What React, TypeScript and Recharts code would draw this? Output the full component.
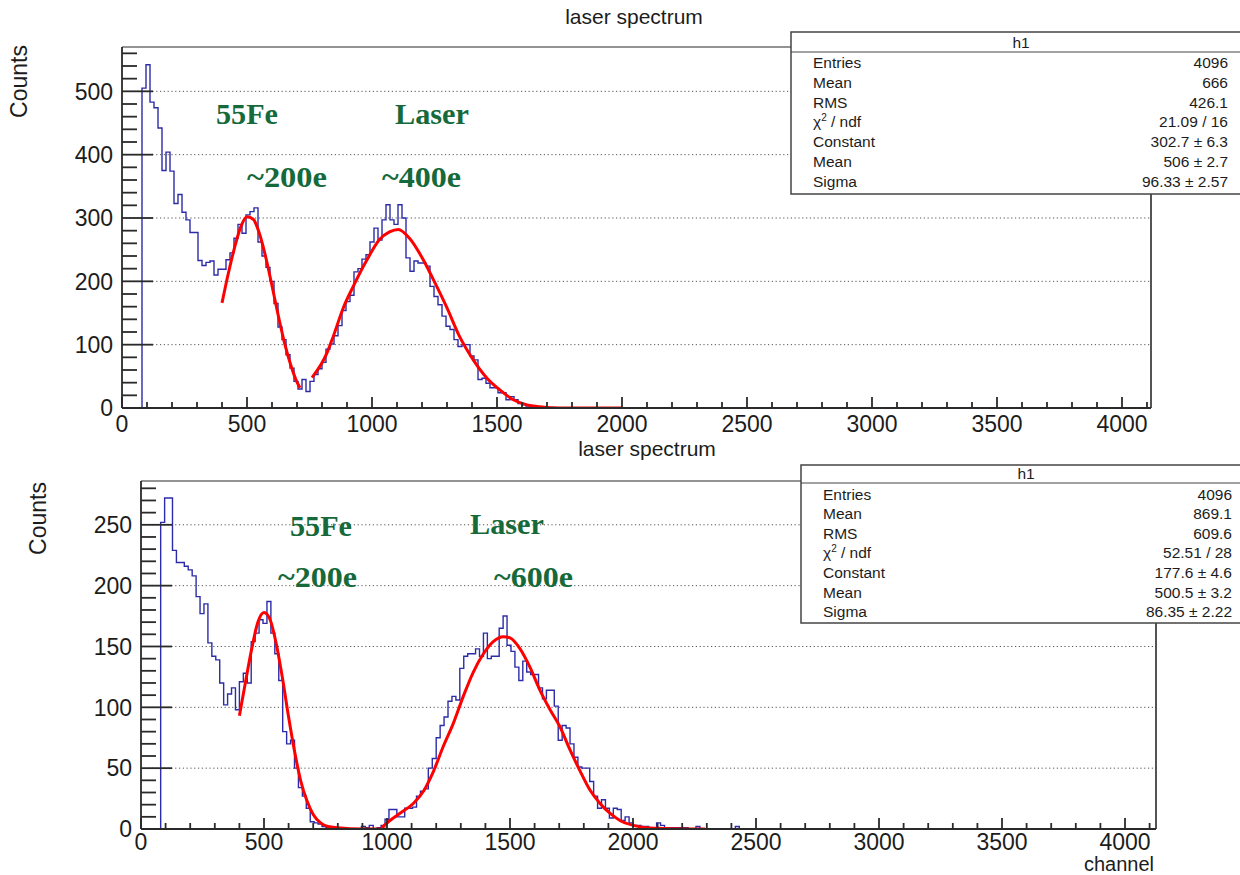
import React from "react";
import { LineChart, Line, XAxis, YAxis, ReferenceLine } from "recharts";

const SANS = "'Liberation Sans', Arial, Helvetica, sans-serif";
const SERIF = "'Liberation Serif', 'Times New Roman', serif";
const INK = "#1c1c1c";
const GREEN = "#16693a";
const HIST_BLUE = "#2c2caa";
const FIT_RED = "#ff0000";
const FRAME = "#2a2a2a";

// histogram binning (channels)
const BIN = 16;
const HIST_START = 80;

// top panel: counts per 16-channel bin, starting at channel 80
const topCounts = [
  505, 542, 483, 474, 442, 375, 404, 374, 323, 337,
  309, 297, 277, 277, 233, 225, 230, 232, 210, 219,
  219, 234, 245, 268, 290, 276, 305, 310, 316, 262,
  240, 222, 200, 165, 128, 108, 84, 63, 42, 30,
  45, 26, 42, 53, 62, 72, 93, 101, 114, 130,
  154, 168, 178, 215, 220, 235, 242, 262, 284, 265,
  297, 321, 297, 290, 321, 300, 237, 216, 232, 229,
  229, 224, 192, 176, 163, 145, 129, 124, 108, 97,
  100, 100, 82, 76, 45, 47, 39, 32, 32, 24,
  24, 13, 18, 13, 7, 5, 3, 2, 2, 1,
  1, 0, 1, 0,
];
const topFeFitX = [400, 425, 450, 475, 500, 525, 550, 575, 600, 625, 650, 675, 700, 712];
const topFeFitY = [166, 212, 253, 286, 302, 298, 275, 238, 193, 146, 103, 68, 41, 32];
const topLaserFitX = [760, 820, 845, 885, 925, 980, 1030, 1070, 1105, 1150, 1205, 1245, 1300, 1350, 1405, 1460, 1510, 1565, 1620, 1670, 1750, 2000];
const topLaserFitY = [48, 87, 113, 158, 192, 234, 266, 278, 282, 268, 234, 203, 158, 113, 76, 47, 29, 13, 5, 2, 0, 0];

// bottom panel
const bottomCounts = [
  252, 272, 272, 229, 219, 219, 216, 213, 208, 191,
  177, 185, 153, 142, 139, 120, 102, 111, 116, 98,
  121, 128, 120, 154, 161, 172, 169, 187, 161, 144,
  122, 80, 70, 73, 50, 34, 27, 17, 6, 5,
  4, 2, 1, 0, 0, 0, 0, 0, 0, 0,
  0, 2, 1, 3, 0, 1, 3, 8, 16, 16,
  10, 10, 17, 17, 18, 27, 31, 33, 50, 58,
  75, 85, 92, 105, 109, 106, 132, 142, 144, 144,
  148, 142, 161, 140, 142, 142, 165, 175, 151, 146,
  133, 122, 138, 129, 127, 127, 116, 107, 114, 114,
  101, 73, 85, 83, 70, 59, 51, 50, 50, 39,
  27, 17, 24, 17, 9, 17, 16, 7, 10, 5,
  3, 3, 2, 2, 1, 1, 5, 3, 1, 1,
  1, 1, 1, 1, 0, 0, 2, 0, 0, 0,
  0, 0, 0, 0, 0, 0, 2,
];
const bottomFeFitX = [400, 425, 450, 475, 500, 525, 550, 575, 600, 625, 650, 675, 700, 730, 760, 800, 900, 1000];
const bottomFeFitY = [93, 121, 148, 170, 178, 172, 152, 124, 92, 63, 39, 23, 12, 5, 2, 1, 0, 0];
const bottomLaserFitX = [978, 1012, 1053, 1107, 1148, 1188, 1229, 1270, 1310, 1351, 1392, 1432, 1473, 1500, 1541, 1581, 1622, 1663, 1703, 1744, 1784, 1825, 1866, 1906, 1947, 2001, 2055, 2123, 2293];
const bottomLaserFitY = [1, 7, 13, 21, 31, 47, 68, 87, 109, 129, 144, 154, 158, 157, 148, 133, 114, 98, 84, 65, 48, 32, 21, 13, 7, 3, 1, 0.5, 0];

const xMajorTicks = [0, 500, 1000, 1500, 2000, 2500, 3000, 3500, 4000];
const topYMajorTicks = [0, 100, 200, 300, 400, 500];
const bottomYMajorTicks = [0, 50, 100, 150, 200, 250];

const statLabels = ["Entries", "Mean", "RMS", "chi2/ndf", "Constant", "Mean", "Sigma"];
const topStatValues = ["4096", "666", "426.1", "21.09 / 16", "302.7 \u00b1 6.3", "506 \u00b1 2.7", "96.33 \u00b1 2.57"];
const bottomStatValues = ["4096", "869.1", "609.6", "52.51 / 28", "177.6 \u00b1 4.6", "500.5 \u00b1 3.2", "86.35 \u00b1 2.22"];

// ROOT style inward ticks (px)
const X_MINOR_LEN = 6;
const X_MAJOR_LEN = 11;
const Y_MINOR_LEN = 15;
const Y_MAJOR_LEN = 31;

// page geometry of the two frames
const TOP_FRAME = { left: 122, right: 1151, top: 47, bottom: 408, xMax: 4116, yMax: 570 };
const BOTTOM_FRAME = { left: 141, right: 1156, top: 481, bottom: 829, xMax: 4126, yMax: 286 };
const BOTTOM_PANEL_TOP = 440;

function toHist(counts: number[]) {
  const pts = [{ x: HIST_START - BIN, y: 0 }];
  counts.forEach((c, i) => pts.push({ x: HIST_START + i * BIN, y: c }));
  pts.push({ x: HIST_START + counts.length * BIN, y: 0 });
  return pts;
}

function withMinors(step: number, max: number) {
  const out: number[] = [];
  for (let v = 0; v <= max; v += step) out.push(v);
  return out;
}

const makeXLabel = (majors: number[], dy: number) => (props: any) => {
  if (!majors.includes(props.payload.value)) return <g />;
  return (
    <text x={props.x} y={Number(props.y) + dy} textAnchor="middle" fontSize={23} fontFamily={SANS} fill={INK}>
      {props.payload.value}
    </text>
  );
};

const makeYLabel = (majors: number[]) => (props: any) => {
  if (!majors.includes(props.payload.value)) return <g />;
  return (
    <text x={Number(props.x) - 9} y={Number(props.y) + 8.3} textAnchor="end" fontSize={23} fontFamily={SANS} fill={INK}>
      {props.payload.value}
    </text>
  );
};

interface PanelProps {
  top: number;
  height: number;
  frame: typeof TOP_FRAME;
  counts: number[];
  fits: { x: number[]; y: number[] }[];
  yMajor: number[];
  yMinorStep: number;
  labelDy: number;
}

function Panel(p: PanelProps) {
  const f = p.frame;
  const plotTop = f.top - p.top;
  const plotBottom = f.bottom - p.top;
  const hist = toHist(p.counts);
  const fitData = p.fits.map((fit) => fit.x.map((x, i) => ({ x, y: fit.y[i] })));
  const xTicks = withMinors(100, f.xMax);
  const yTicks = withMinors(p.yMinorStep, f.yMax);

  return (
    <div style={{ position: "absolute", left: 0, top: p.top }}>
      <LineChart
        width={1240}
        height={p.height}
        margin={{ top: plotTop, right: 1240 - f.right, bottom: p.height - plotBottom - 30, left: f.left - 60 }}
      >
        {p.yMajor
          .filter((v) => v > 0)
          .map((v) => (
            <ReferenceLine key={"g" + v} y={v} stroke="#555" strokeDasharray="1.2 2.6" />
          ))}
        <ReferenceLine x={f.xMax} stroke={FRAME} strokeWidth={1.6} />
        <ReferenceLine y={f.yMax} stroke={FRAME} strokeWidth={1.2} />
        <Line
          data={hist}
          dataKey="y"
          type="stepAfter"
          stroke={HIST_BLUE}
          strokeWidth={1.4}
          dot={false}
          isAnimationActive={false}
        />
        {fitData.map((d, i) => (
          <Line
            key={"fit" + i}
            data={d}
            dataKey="y"
            type="monotone"
            stroke={FIT_RED}
            strokeWidth={3}
            dot={false}
            isAnimationActive={false}
          />
        ))}
        <XAxis
          type="number"
          dataKey="x"
          domain={[0, f.xMax]}
          allowDataOverflow
          ticks={xTicks}
          interval={0}
          tickSize={0}
          tickMargin={0}
          tickLine={false}
          height={30}
          tick={makeXLabel(xMajorTicks, p.labelDy)}
          axisLine={{ stroke: FRAME, strokeWidth: 1.8 }}
        />
        <YAxis
          type="number"
          domain={[0, f.yMax]}
          allowDataOverflow
          ticks={yTicks}
          interval={0}
          tickSize={0}
          tickMargin={0}
          tickLine={false}
          width={60}
          tick={makeYLabel(p.yMajor)}
          axisLine={{ stroke: FRAME, strokeWidth: 1.8 }}
        />
      </LineChart>
    </div>
  );
}

// inward tick comb on the left and bottom edges of a frame
function TickComb({ frame, yMajor, yMinorStep }: { frame: typeof TOP_FRAME; yMajor: number[]; yMinorStep: number }) {
  const w = frame.right - frame.left;
  const h = frame.bottom - frame.top;
  const xs = withMinors(100, frame.xMax);
  const ys = withMinors(yMinorStep, frame.yMax);
  return (
    <g stroke={FRAME} strokeWidth={1.8}>
      {xs.map((u) => {
        const px = frame.left + (u / frame.xMax) * w;
        const len = xMajorTicks.includes(u) ? X_MAJOR_LEN : X_MINOR_LEN;
        return <line key={"x" + u} x1={px} y1={frame.bottom} x2={px} y2={frame.bottom - len} />;
      })}
      {ys.map((v) => {
        const py = frame.bottom - (v / frame.yMax) * h;
        const len = yMajor.includes(v) ? Y_MAJOR_LEN : Y_MINOR_LEN;
        return <line key={"y" + v} x1={frame.left} y1={py} x2={frame.left + len} y2={py} />;
      })}
    </g>
  );
}

function StatsBox({ x, y, w, h, headerY, headerX, labelX, valueX, firstRow, rowGap, values }: any) {
  return (
    <g fontFamily={SANS} fill={INK}>
      <rect x={x} y={y} width={w} height={h} fill="#fff" stroke="#444" strokeWidth={1.5} />
      <line x1={x} y1={headerY} x2={x + w} y2={headerY} stroke="#444" strokeWidth={1.2} />
      <text x={headerX} y={headerY - 4} textAnchor="middle" fontSize={15.5}>
        h1
      </text>
      {statLabels.map((label, i) => (
        <g key={i}>
          {label === "chi2/ndf" ? (
            <text x={labelX} y={firstRow + i * rowGap} fontSize={15.5}>
              {"\u03c7"}
              <tspan dy={-6} fontSize={10}>
                2
              </tspan>
              <tspan dy={6}>{" / ndf"}</tspan>
            </text>
          ) : (
            <text x={labelX} y={firstRow + i * rowGap} fontSize={15.5}>
              {label}
            </text>
          )}
          <text x={valueX} y={firstRow + i * rowGap} fontSize={15.5} textAnchor="end">
            {values[i]}
          </text>
        </g>
      ))}
    </g>
  );
}

function Note({ x, y, w, children }: any) {
  return (
    <text
      x={x}
      y={y}
      fontFamily={SERIF}
      fontWeight="bold"
      fontSize={30}
      fill={GREEN}
      textLength={w}
      lengthAdjust="spacingAndGlyphs"
    >
      {children}
    </text>
  );
}

export default function App() {
  return (
    <div style={{ position: "absolute", left: 0, top: 0, width: 1240, height: 875, background: "#fff" }}>
      <Panel
        top={0}
        height={440}
        frame={TOP_FRAME}
        counts={topCounts}
        fits={[
          { x: topFeFitX, y: topFeFitY },
          { x: topLaserFitX, y: topLaserFitY },
        ]}
        yMajor={topYMajorTicks}
        yMinorStep={20}
        labelDy={24}
      />
      <Panel
        top={BOTTOM_PANEL_TOP}
        height={435}
        frame={BOTTOM_FRAME}
        counts={bottomCounts}
        fits={[
          { x: bottomFeFitX, y: bottomFeFitY },
          { x: bottomLaserFitX, y: bottomLaserFitY },
        ]}
        yMajor={bottomYMajorTicks}
        yMinorStep={10}
        labelDy={21}
      />
      <svg
        width={1240}
        height={875}
        style={{ position: "absolute", left: 0, top: 0, pointerEvents: "none" }}
      >
        <TickComb frame={TOP_FRAME} yMajor={topYMajorTicks} yMinorStep={20} />
        <TickComb frame={BOTTOM_FRAME} yMajor={bottomYMajorTicks} yMinorStep={10} />

        {/* titles */}
        <text x={634} y={24} textAnchor="middle" fontSize={21} fontFamily={SANS} fill={INK}>
          laser spectrum
        </text>
        <text x={647} y={456} textAnchor="middle" fontSize={21} fontFamily={SANS} fill={INK}>
          laser spectrum
        </text>
        <text transform="translate(27,45) rotate(-90)" textAnchor="end" fontSize={23} fontFamily={SANS} fill={INK}>
          Counts
        </text>
        <text transform="translate(46,482) rotate(-90)" textAnchor="end" fontSize={23} fontFamily={SANS} fill={INK}>
          Counts
        </text>
        <text x={1154} y={871} textAnchor="end" fontSize={20} fontFamily={SANS} fill={INK}>
          channel
        </text>

        {/* annotations */}
        <Note x={216} y={124} w={62}>55Fe</Note>
        <Note x={395} y={124} w={74}>Laser</Note>
        <Note x={247} y={187} w={80}>~200e</Note>
        <Note x={382} y={187} w={79}>~400e</Note>
        <Note x={290} y={536} w={62}>55Fe</Note>
        <Note x={470} y={534} w={74}>Laser</Note>
        <Note x={278} y={587} w={79}>~200e</Note>
        <Note x={494} y={587} w={79}>~600e</Note>

        <StatsBox
          x={791}
          y={32}
          w={470}
          h={162}
          headerY={52}
          headerX={1021}
          labelX={813}
          valueX={1228}
          firstRow={68}
          rowGap={19.8}
          values={topStatValues}
        />
        <StatsBox
          x={801}
          y={465}
          w={460}
          h={158}
          headerY={483}
          headerX={1026}
          labelX={823}
          valueX={1232}
          firstRow={499.5}
          rowGap={19.6}
          values={bottomStatValues}
        />
      </svg>
    </div>
  );
}
